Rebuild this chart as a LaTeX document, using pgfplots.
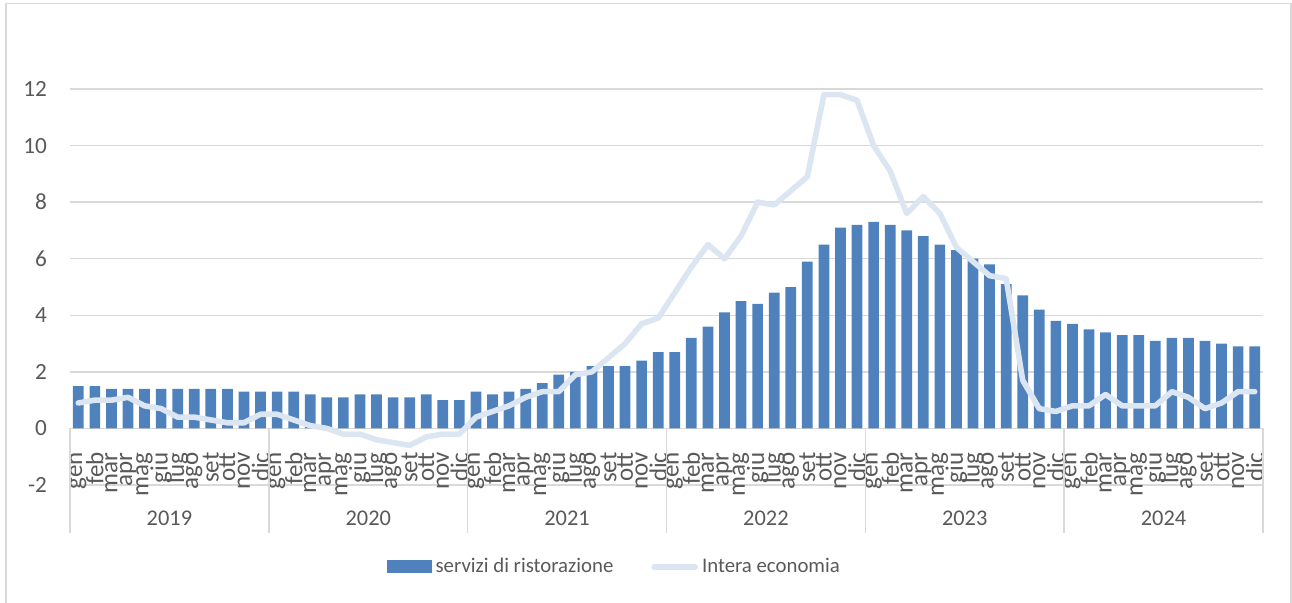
\documentclass[border=0pt]{standalone}
\usepackage{fontspec}
\setmainfont{Carlito}
\usepackage{pgfplots}
\pgfplotsset{compat=1.18}
\definecolor{barblue}{HTML}{4F81BD}
\definecolor{linelight}{HTML}{DCE6F2}
\definecolor{gridgray}{HTML}{D9D9D9}
\definecolor{textgray}{HTML}{595959}

\pgfplotstableread{
x y
0 1.5
1 1.5
2 1.4
3 1.4
4 1.4
5 1.4
6 1.4
7 1.4
8 1.4
9 1.4
10 1.3
11 1.3
12 1.3
13 1.3
14 1.2
15 1.1
16 1.1
17 1.2
18 1.2
19 1.1
20 1.1
21 1.2
22 1.0
23 1.0
24 1.3
25 1.2
26 1.3
27 1.4
28 1.6
29 1.9
30 2.0
31 2.2
32 2.2
33 2.2
34 2.4
35 2.7
36 2.7
37 3.2
38 3.6
39 4.1
40 4.5
41 4.4
42 4.8
43 5.0
44 5.9
45 6.5
46 7.1
47 7.2
48 7.3
49 7.2
50 7.0
51 6.8
52 6.5
53 6.3
54 6.0
55 5.8
56 5.1
57 4.7
58 4.2
59 3.8
60 3.7
61 3.5
62 3.4
63 3.3
64 3.3
65 3.1
66 3.2
67 3.2
68 3.1
69 3.0
70 2.9
71 2.9
}\ristorazione

\pgfplotstableread{
x y
0 0.9
1 1.0
2 1.0
3 1.1
4 0.8
5 0.7
6 0.4
7 0.4
8 0.3
9 0.2
10 0.2
11 0.5
12 0.5
13 0.3
14 0.1
15 0.0
16 -0.2
17 -0.2
18 -0.4
19 -0.5
20 -0.6
21 -0.3
22 -0.2
23 -0.2
24 0.4
25 0.6
26 0.8
27 1.1
28 1.3
29 1.3
30 1.9
31 2.0
32 2.5
33 3.0
34 3.7
35 3.9
36 4.8
37 5.7
38 6.5
39 6.0
40 6.8
41 8.0
42 7.9
43 8.4
44 8.9
45 11.8
46 11.8
47 11.6
48 10.0
49 9.1
50 7.6
51 8.2
52 7.6
53 6.4
54 5.9
55 5.4
56 5.3
57 1.7
58 0.7
59 0.6
60 0.8
61 0.8
62 1.2
63 0.8
64 0.8
65 0.8
66 1.3
67 1.1
68 0.7
69 0.9
70 1.3
71 1.3
}\intera

\begin{document}
\begin{tikzpicture}[x=1pt,y=1pt]
\useasboundingbox (0,0) rectangle (646,301);
\draw[gridgray, line width=0.8pt] (3,-2) -- (3,299.25) -- (645.35,299.25) -- (645.35,-2);
\begin{axis}[
  at={(35pt,58.5pt)}, anchor=south west,
  scale only axis, width=596.5pt, height=198pt,
  xmin=-0.5, xmax=71.5, ymin=-2, ymax=12,
  ytick={-2,0,2,4,6,8,10,12},
  xtick={0,...,71},
  xticklabels={gen,feb,mar,apr,mag,giu,lug,ago,set,ott,nov,dic,
               gen,feb,mar,apr,mag,giu,lug,ago,set,ott,nov,dic,
               gen,feb,mar,apr,mag,giu,lug,ago,set,ott,nov,dic,
               gen,feb,mar,apr,mag,giu,lug,ago,set,ott,nov,dic,
               gen,feb,mar,apr,mag,giu,lug,ago,set,ott,nov,dic,
               gen,feb,mar,apr,mag,giu,lug,ago,set,ott,nov,dic},
  axis line style={draw=none},
  major tick length=0pt,
  ymajorgrids, grid style={gridgray, line width=0.75pt},
  yticklabel style={font=\fontsize{11.6}{12}\selectfont, text=textgray, xshift=-8pt},
  /pgf/number format/assume math mode=true,
  xticklabel style={font=\fontsize{12.5}{12}\selectfont, text=textgray,
    rotate=90, anchor=east, inner sep=1pt},
  xticklabel shift=-17.5pt,
  clip=false,
  legend columns=2,
  legend cell align=left,
  legend style={at={(axis description cs:0.457,-0.207)}, anchor=center,
    draw=none, fill=none, font=\fontsize{10.4}{12}\selectfont, text=textgray,
    /tikz/every even column/.append style={column sep=17pt},
    inner sep=0pt},
]
\addplot[ybar, bar width=5.35pt, fill=barblue, draw=none,
  legend image code/.code={\fill[barblue] (0pt,-3.25pt) rectangle (22.5pt,3.25pt);}]
  table[x=x,y=y] {\ristorazione};
\addlegendentry{servizi di ristorazione}
\addplot[linelight, line width=2.8pt, line join=round, line cap=round, mark=none,
  legend image code/.code={\draw[linelight, line width=2.8pt, line cap=round] (1pt,0pt) -- (21.5pt,0pt);}]
  table[x=x,y=y] {\intera};
\addlegendentry{Intera economia}

\draw[gridgray, line width=0.75pt] (axis cs:-0.5,0) -- (axis cs:-0.5,-3.7);
\draw[gridgray, line width=0.75pt] (axis cs:11.5,0) -- (axis cs:11.5,-3.7);
\draw[gridgray, line width=0.75pt] (axis cs:23.5,0) -- (axis cs:23.5,-3.7);
\draw[gridgray, line width=0.75pt] (axis cs:35.5,0) -- (axis cs:35.5,-3.7);
\draw[gridgray, line width=0.75pt] (axis cs:47.5,0) -- (axis cs:47.5,-3.7);
\draw[gridgray, line width=0.75pt] (axis cs:59.5,0) -- (axis cs:59.5,-3.7);
\draw[gridgray, line width=0.75pt] (axis cs:71.5,0) -- (axis cs:71.5,-3.7);

\node[text=textgray, font=\fontsize{11.2}{12}\selectfont] at (axis cs:5.5,-3.17) {2019};
\node[text=textgray, font=\fontsize{11.2}{12}\selectfont] at (axis cs:17.5,-3.17) {2020};
\node[text=textgray, font=\fontsize{11.2}{12}\selectfont] at (axis cs:29.5,-3.17) {2021};
\node[text=textgray, font=\fontsize{11.2}{12}\selectfont] at (axis cs:41.5,-3.17) {2022};
\node[text=textgray, font=\fontsize{11.2}{12}\selectfont] at (axis cs:53.5,-3.17) {2023};
\node[text=textgray, font=\fontsize{11.2}{12}\selectfont] at (axis cs:65.5,-3.17) {2024};
\end{axis}
\end{tikzpicture}
\end{document}
